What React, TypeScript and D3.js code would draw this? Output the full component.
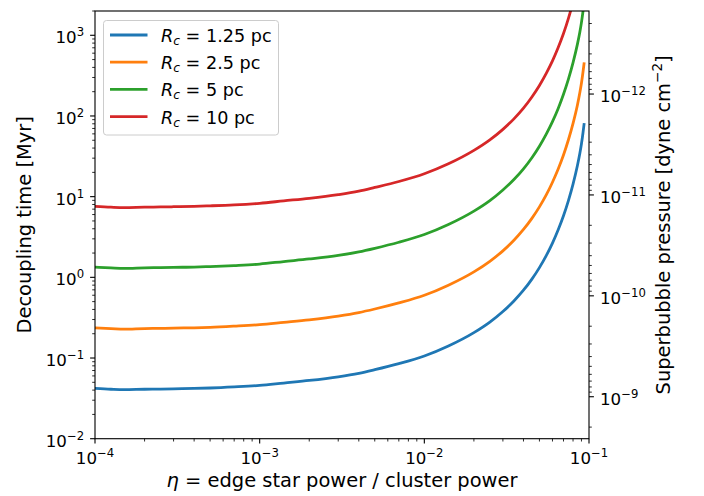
import React from "react";
import * as d3 from "d3";

// eta = edge star power / cluster power
const eta = [
  1e-4, 1.25e-4, 1.5e-4, 2e-4, 2.5e-4, 3e-4, 4e-4, 5e-4, 7e-4,
  1e-3, 1.4e-3, 2e-3, 3e-3, 4e-3, 5e-3, 7e-3, 1e-2,
  1.4e-2, 2e-2, 2.5e-2, 3e-2, 3.5e-2, 4e-2, 4.5e-2,
  5e-2, 5.5e-2, 6e-2, 6.5e-2, 7e-2, 7.5e-2, 8e-2, 8.5e-2, 8.8e-2, 9e-2, 9.2e-2, 9.33e-2,
];

// Decoupling time [Myr]
const tauRc125 = [
  0.042, 0.041, 0.0405, 0.041, 0.0412, 0.0415, 0.042, 0.0425, 0.0438,
  0.0457, 0.049, 0.0527, 0.0585, 0.0646, 0.0716, 0.0851, 0.106,
  0.141, 0.2065, 0.279, 0.377, 0.509, 0.692, 0.951,
  1.32, 1.86, 2.66, 3.89, 5.8, 8.95, 14.3, 24.1, 34.4, 45.2, 62.4, 78.5,
];
const tauRc25 = [
  0.236, 0.232, 0.228, 0.232, 0.233, 0.235, 0.237, 0.240, 0.248,
  0.259, 0.277, 0.298, 0.331, 0.366, 0.405, 0.482, 0.60,
  0.80, 1.17, 1.58, 2.13, 2.88, 3.92, 5.38,
  7.47, 10.5, 15.1, 22.0, 32.8, 50.7, 81, 136, 195, 256, 353, 444,
];
const tauRc5 = [
  1.34, 1.31, 1.29, 1.31, 1.32, 1.33, 1.34, 1.36, 1.40,
  1.46, 1.57, 1.69, 1.87, 2.07, 2.29, 2.72, 3.39,
  4.51, 6.61, 8.93, 12.1, 16.3, 22.1, 30.4,
  42.2, 59.5, 85, 124, 186, 286, 458, 771, 1100, 1446, 1997, 2512,
];
const tauRc10 = [
  7.6, 7.4, 7.3, 7.4, 7.45, 7.5, 7.6, 7.7, 7.9,
  8.27, 8.87, 9.54, 10.6, 11.7, 13.0, 15.4, 19.2,
  25.5, 37.4, 50.5, 68.2, 92.1, 125, 172,
  239, 337, 481, 704, 1050, 1620, 2590, 4360, 6230, 8180, 11300, 14200,
];

const seriesLabels = ["1.25", "2.5", "5", "10"];
const seriesColors = ["#1f77b4", "#ff7f0e", "#2ca02c", "#d62728"];
const seriesValues = [tauRc125, tauRc25, tauRc5, tauRc10];

const xTickExps = [-4, -3, -2, -1];
const yTickExps = [-2, -1, 0, 1, 2, 3];
const yRightTickExps = [-12, -11, -10, -9];

const FONT = "DejaVu Sans, sans-serif";
const FS_TICK = 16.67;
const FS_LABEL = 19.44;
const FS_LEG = 17.6;

function minorTicks(lo: number, hi: number) {
  const out: number[] = [];
  const e0 = Math.floor(Math.log10(lo));
  const e1 = Math.ceil(Math.log10(hi));
  for (let e = e0; e <= e1; e++) {
    for (let m = 2; m <= 9; m++) {
      const v = m * Math.pow(10, e);
      if (v >= lo * (1 - 1e-9) && v <= hi * (1 + 1e-9)) out.push(v);
    }
  }
  return out;
}

function Pow({ exp }: { exp: number }) {
  const s = exp < 0 ? "\u2212" + Math.abs(exp) : String(exp);
  return (
    <>
      10
      <tspan dy={-7} fontSize={FS_TICK * 0.7}>
        {s}
      </tspan>
    </>
  );
}

export default function App() {
  const L = 95,
    R = 589,
    T = 11,
    B = 438.7;
  const x = d3.scaleLog().domain([1e-4, 1e-1]).range([L, R]);
  const y = d3.scaleLog().domain([1e-2, 2e3]).range([B, T]);
  const yR = d3
    .scaleLog()
    .domain([Math.pow(10, -12.823), Math.pow(10, -8.584)])
    .range([T, B]);

  const line = d3
    .line<[number, number]>()
    .x((d) => x(d[0]))
    .y((d) => y(d[1]))
    .curve(d3.curveMonotoneX);

  const majorLen = 4.9,
    minorLen = 2.8,
    majorW = 1.11,
    minorW = 0.83;

  const xMinor = minorTicks(1e-4, 1e-1);
  const yMinor = minorTicks(1e-2, 2e3);
  const yRMinor = minorTicks(yR.domain()[0], yR.domain()[1]);

  return (
    <svg
      width={704}
      height={496}
      style={{ position: "absolute", left: 0, top: 0 }}
      fontFamily={FONT}
      fontSize={FS_TICK}
    >
      <rect x={0} y={0} width={704} height={496} fill="#fff" />
      <defs>
        <clipPath id="plotclip">
          <rect x={L} y={T} width={R - L} height={B - T} />
        </clipPath>
      </defs>

      <g clipPath="url(#plotclip)">
        {seriesValues.map((vals, i) => (
          <path
            key={i}
            d={line(eta.map((e, j) => [e, vals[j]] as [number, number])) || ""}
            fill="none"
            stroke={seriesColors[i]}
            strokeWidth={2.78}
            strokeLinecap="square"
            strokeLinejoin="round"
          />
        ))}
      </g>

      {/* spines */}
      <rect
        x={L}
        y={T}
        width={R - L}
        height={B - T}
        fill="none"
        stroke="#000"
        strokeWidth={1.11}
      />

      {/* x ticks */}
      {xMinor.map((v, i) => (
        <line key={"xm" + i} x1={x(v)} x2={x(v)} y1={B} y2={B + minorLen} stroke="#000" strokeWidth={minorW} />
      ))}
      {xTickExps.map((e) => (
        <g key={"xt" + e}>
          <line x1={x(Math.pow(10, e))} x2={x(Math.pow(10, e))} y1={B} y2={B + majorLen} stroke="#000" strokeWidth={majorW} />
          <text x={x(Math.pow(10, e))} y={463.5} textAnchor="middle">
            <Pow exp={e} />
          </text>
        </g>
      ))}

      {/* left y ticks */}
      {yMinor.map((v, i) => (
        <line key={"ym" + i} x1={L - minorLen} x2={L} y1={y(v)} y2={y(v)} stroke="#000" strokeWidth={minorW} />
      ))}
      {yTickExps.map((e) => (
        <g key={"yt" + e}>
          <line x1={L - majorLen} x2={L} y1={y(Math.pow(10, e))} y2={y(Math.pow(10, e))} stroke="#000" strokeWidth={majorW} />
          <text x={L - majorLen - 6} y={y(Math.pow(10, e)) + 8} textAnchor="end">
            <Pow exp={e} />
          </text>
        </g>
      ))}

      {/* right y ticks */}
      {yRMinor.map((v, i) => (
        <line key={"yrm" + i} x1={R} x2={R + minorLen} y1={yR(v)} y2={yR(v)} stroke="#000" strokeWidth={minorW} />
      ))}
      {yRightTickExps.map((e) => (
        <g key={"yrt" + e}>
          <line x1={R} x2={R + majorLen} y1={yR(Math.pow(10, e))} y2={yR(Math.pow(10, e))} stroke="#000" strokeWidth={majorW} />
          <text x={R + 11} y={yR(Math.pow(10, e)) + 8} textAnchor="start">
            <Pow exp={e} />
          </text>
        </g>
      ))}

      {/* axis labels */}
      <text x={(L + R) / 2} y={487} textAnchor="middle" fontSize={FS_LABEL}>
        <tspan fontStyle="italic">η</tspan> = edge star power / cluster power
      </text>
      <text transform={`translate(31,${(T + B) / 2}) rotate(-90)`} textAnchor="middle" fontSize={FS_LABEL}>
        Decoupling time [Myr]
      </text>
      <text transform={`translate(670,${(T + B) / 2}) rotate(-90)`} textAnchor="middle" fontSize={FS_LABEL}>
        Superbubble pressure [dyne cm
        <tspan dy={-8} fontSize={FS_LABEL * 0.7}>
          {"\u22122"}
        </tspan>
        <tspan dy={8}>]</tspan>
      </text>

      {/* legend */}
      <rect x={103.5} y={20.5} width={175} height={114.5} rx={3} ry={3} fill="#fff" fillOpacity={0.8} stroke="#cccccc" strokeWidth={1} />
      {seriesLabels.map((lab, i) => {
        const cy = 35 + i * 27.2;
        return (
          <g key={"lg" + i}>
            <line x1={110} x2={147.5} y1={cy} y2={cy} stroke={seriesColors[i]} strokeWidth={2.78} />
            <text x={161} y={cy + 7} fontSize={FS_LEG}>
              <tspan fontStyle="italic">R</tspan>
              <tspan fontStyle="italic" fontSize={FS_LEG * 0.7} dy={3}>
                c
              </tspan>
              <tspan dy={-3}>{" = " + lab + " pc"}</tspan>
            </text>
          </g>
        );
      })}
    </svg>
  );
}
